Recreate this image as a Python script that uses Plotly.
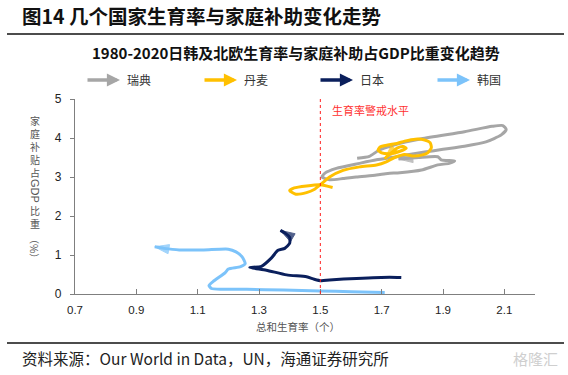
import plotly.graph_objects as go

# ---------------- data ----------------
# x: total fertility rate, y: family benefits as % of GDP, in time order
swe_tfr = [1.62, 1.66, 1.69, 1.74, 1.83, 1.97, 2.06, 2.095, 2.106, 2.09, 2.04, 1.97, 1.90,
           1.84, 1.79, 1.748, 1.683, 1.628, 1.552, 1.515, 1.505, 1.53, 1.574, 1.617, 1.683,
           1.72, 1.759, 1.83, 1.883, 1.92, 1.938, 1.894, 1.883, 1.82, 1.755]
swe_fam = [3.48, 3.53, 3.68, 3.82, 3.98, 4.16, 4.30, 4.32, 4.22, 4.08, 3.90, 3.79, 3.71,
           3.64, 3.58, 3.52, 3.44, 3.35, 3.22, 3.10, 3.00, 2.93, 2.96, 3.00, 3.05,
           3.09, 3.11, 3.18, 3.31, 3.35, 3.41, 3.44, 3.52, 3.50, 3.46]

dnk_tfr = [1.54, 1.50, 1.455, 1.415, 1.40, 1.42, 1.455, 1.48, 1.50, 1.53, 1.574, 1.628, 1.683,
           1.715, 1.742, 1.775, 1.80, 1.83, 1.85, 1.862, 1.858, 1.84, 1.81, 1.775, 1.75,
           1.72, 1.695, 1.688, 1.70, 1.73, 1.76, 1.78, 1.77, 1.75, 1.735, 1.72, 1.71]
dnk_fam = [2.73, 2.80, 2.77, 2.72, 2.65, 2.56, 2.60, 2.68, 2.80, 3.00, 3.17, 3.26, 3.31,
           3.39, 3.50, 3.58, 3.54, 3.56, 3.62, 3.75, 3.88, 3.95, 3.97, 3.92, 3.86,
           3.82, 3.77, 3.69, 3.62, 3.60, 3.66, 3.74, 3.78, 3.74, 3.64, 3.55, 3.47]

jpn_tfr = [1.764, 1.726, 1.618, 1.53, 1.503, 1.48, 1.455, 1.39, 1.324, 1.27, 1.308, 1.34,
           1.362, 1.384, 1.40, 1.40, 1.385, 1.37]
jpn_fam = [0.42, 0.43, 0.40, 0.36, 0.34, 0.38, 0.44, 0.49, 0.61, 0.68, 0.71, 0.92,
           1.12, 1.17, 1.30, 1.45, 1.56, 1.63]

kor_tfr = [1.71, 1.60, 1.50, 1.38, 1.26, 1.18, 1.145, 1.137, 1.15, 1.19, 1.20, 1.24,
           1.255, 1.245, 1.225, 1.20, 1.12, 1.04, 0.99, 0.96]
kor_fam = [0.04, 0.06, 0.08, 0.10, 0.12, 0.12, 0.14, 0.22, 0.32, 0.55, 0.64, 0.70,
           0.78, 0.95, 1.08, 1.15, 1.13, 1.13, 1.17, 1.21]

series_names = ["瑞典", "丹麦", "日本", "韩国"]
series_colors = ["#A6A6A6", "#FFC000", "#0A1F5C", "#7CC3FA"]
warning_tfr = 1.5
x_ticks = [0.7, 0.9, 1.1, 1.3, 1.5, 1.7, 1.9, 2.1]
y_ticks = [0, 1, 2, 3, 4, 5]

# ---------------- figure ----------------
W, H = 568, 375
L, R, T, B = 75, 33, 99, 81
PW, PH = W - L - R, H - T - B


def px(xp):
    return (xp - L) / PW


def py(yp):
    return (H - B - yp) / PH


fig = go.Figure()
data = [(swe_tfr, swe_fam), (dnk_tfr, dnk_fam), (kor_tfr, kor_fam), (jpn_tfr, jpn_fam)]
order = [0, 1, 3, 2]
for (xs, ys), idx in zip(data, order):
    n = len(xs)
    fig.add_trace(go.Scatter(
        x=xs, y=ys, mode="lines+markers", name=series_names[idx],
        line=dict(color=series_colors[idx], width=3, shape="spline", smoothing=0.6),
        marker=dict(symbol="arrow", angleref="previous",
                    size=[0] * (n - 1) + [15], color=series_colors[idx],
                    line=dict(width=1, color=series_colors[idx])),
        showlegend=False, hoverinfo="skip",
    ))

FONT = "Arial, Liberation Sans, Noto Sans CJK SC, sans-serif"
CJK = "Noto Sans CJK SC, sans-serif"

fig.update_layout(
    width=W, height=H,
    margin=dict(l=L, r=R, t=T, b=B, pad=0),
    paper_bgcolor="white", plot_bgcolor="white",
    font=dict(family=FONT, size=12, color="#222"),
    xaxis=dict(range=[0.7, 2.2], tickvals=x_ticks, ticktext=[f"{v:.1f}" for v in x_ticks],
               showgrid=False, zeroline=False, showline=True, linecolor="#7f7f7f",
               linewidth=1.2, ticks="inside", ticklen=5, tickcolor="#7f7f7f",
               ticklabelstandoff=5, tickfont=dict(size=11.5, color="#222")),
    yaxis=dict(range=[0, 5], tickvals=y_ticks, showgrid=False, zeroline=False,
               showline=True, linecolor="#7f7f7f", linewidth=1.2, ticks="outside",
               ticklen=4, tickcolor="#7f7f7f", ticklabelstandoff=6,
               tickfont=dict(size=12, color="#222")),
)

# warning line
fig.add_shape(type="line", x0=warning_tfr, x1=warning_tfr, y0=0, y1=5, xref="x", yref="y",
              line=dict(color="#FF2020", width=1, dash="dot"), layer="above")
fig.add_annotation(x=1.53, y=4.72, xref="x", yref="y", text="生育率警戒水平", showarrow=False,
                   xanchor="left", yanchor="middle", font=dict(family=CJK, size=11, color="#FF3030"))

# headings
fig.add_annotation(x=px(20), y=py(16), xref="paper", yref="paper", xanchor="left", yanchor="middle",
                   text="<b>图14 几个国家生育率与家庭补助变化走势</b>", showarrow=False,
                   font=dict(family=CJK, size=19.5, color="#111"))
fig.add_shape(type="line", xref="paper", yref="paper", x0=px(7), x1=px(564), y0=py(34), y1=py(34),
              line=dict(color="#111", width=1.5))
fig.add_annotation(x=px(296), y=py(53), xref="paper", yref="paper", xanchor="center", yanchor="middle",
                   text="<b>1980-2020日韩及北欧生育率与家庭补助占GDP比重变化趋势</b>", showarrow=False,
                   font=dict(family=CJK, size=15, color="#111"))

# manual legend with arrows
leg_tips = [120, 237, 353, 470]
for name, col, tip in zip(series_names, series_colors, leg_tips):
    fig.add_annotation(x=px(tip), y=py(80), xref="paper", yref="paper", ax=-34, ay=0,
                       axref="pixel", ayref="pixel", text="", showarrow=True,
                       arrowhead=2, arrowsize=0.75, arrowwidth=3.5, arrowcolor=col)
    fig.add_annotation(x=px(tip + 5), y=py(80), xref="paper", yref="paper", xanchor="left",
                       yanchor="middle", text=name, showarrow=False,
                       font=dict(family=CJK, size=12, color="#333"))

# y-axis title (vertical, characters stacked)
ycol = "#555"
fig.add_annotation(x=px(35), y=py(146), xref="paper", yref="paper", text="家<br>庭<br>补<br>贴<br>占",
                   showarrow=False, xanchor="center", yanchor="middle",
                   font=dict(family=CJK, size=10, color=ycol))
fig.add_annotation(x=px(35), y=py(191), xref="paper", yref="paper", text="GDP", showarrow=False,
                   textangle=90, xanchor="center", yanchor="middle",
                   font=dict(family=FONT, size=11, color=ycol))
fig.add_annotation(x=px(35), y=py(217), xref="paper", yref="paper", text="比<br>重",
                   showarrow=False, xanchor="center", yanchor="middle",
                   font=dict(family=CJK, size=10, color=ycol))
fig.add_annotation(x=px(35), y=py(248), xref="paper", yref="paper", text="（%）", showarrow=False,
                   textangle=90, xanchor="center", yanchor="middle",
                   font=dict(family=CJK, size=10, color=ycol))

# x-axis title
fig.add_annotation(x=px(298), y=py(326), xref="paper", yref="paper", text="总和生育率（个）",
                   showarrow=False, xanchor="center", yanchor="middle",
                   font=dict(family=CJK, size=10.5, color=ycol))

# footer
fig.add_shape(type="line", xref="paper", yref="paper", x0=px(7), x1=px(564), y0=py(343), y1=py(343),
              line=dict(color="#111", width=1.5))
fig.add_annotation(x=px(20), y=py(358), xref="paper", yref="paper", xanchor="left", yanchor="middle",
                   text="资料来源：Our World in Data，UN，海通证券研究所", showarrow=False,
                   font=dict(family=CJK, size=15.5, color="#222"))
fig.add_annotation(x=px(560), y=py(358), xref="paper", yref="paper", xanchor="right", yanchor="middle",
                   text="格隆汇", showarrow=False, font=dict(family=CJK, size=15, color="#cfcfcf"))

fig.write_html("out.html", config={"displayModeBar": False},
               post_script="document.body.style.margin='0';document.body.style.padding='0';")
